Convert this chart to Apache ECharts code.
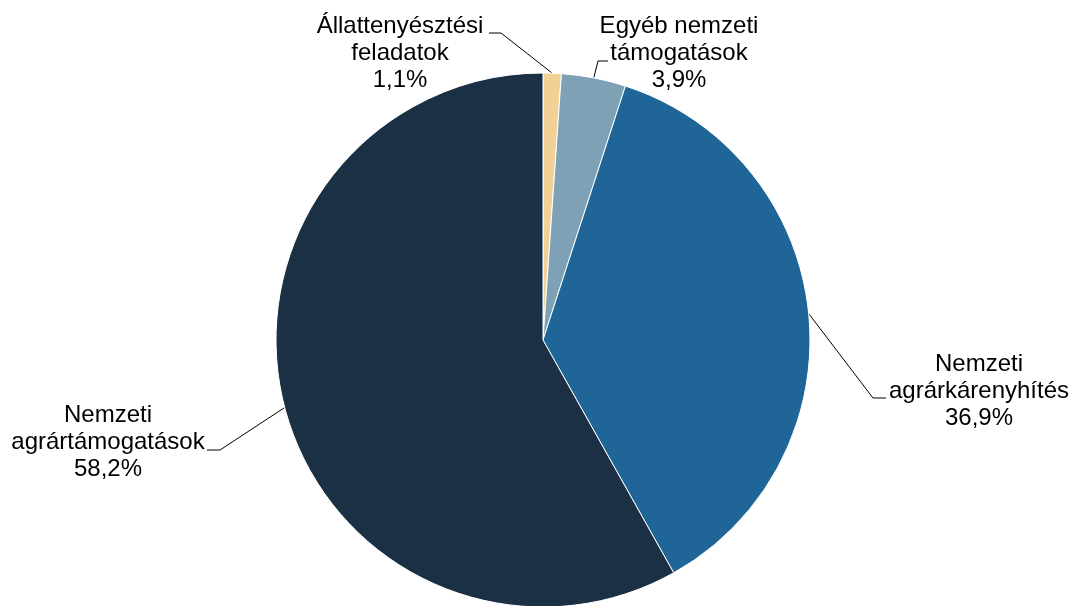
<!DOCTYPE html>
<html>
<head>
<meta charset="utf-8">
<script src="https://cdn.jsdelivr.net/npm/echarts@6/dist/echarts.min.js"></script>
<style>
html,body{margin:0;padding:0;background:#fff;}
#c{width:1072px;height:606px;}
</style>
</head>
<body>
<div id="c"></div>
<script>
var categories = ["Állattenyésztési\nfeladatok", "Egyéb nemzeti\ntámogatások", "Nemzeti\nagrárkárenyhítés", "Nemzeti\nagrártámogatások"];
var values = [1.1, 3.9, 36.9, 58.2];
var colors = ["#F2D197", "#7FA1B5", "#1F6597", "#1B3044"];
// label centre positions and elbow points (layout only)
var labelPos = [
  {x: 400, y: 53, elbow: [501, 33], end: [489, 33]},
  {x: 679, y: 53, elbow: [598, 61], end: [608, 61]},
  {x: 979, y: 391, elbow: [873, 398], end: [886, 398]},
  {x: 108, y: 442, elbow: [220, 450], end: [207, 450]}
];

var chart = echarts.init(document.getElementById('c'));
chart.setOption({
  animation: false,
  series: [{
    type: 'pie',
    center: [543, 340],
    radius: [0, 267],
    startAngle: 90,
    clockwise: true,
    data: categories.map(function (c, i) {
      return {name: c, value: values[i], itemStyle: {color: colors[i]}};
    }),
    itemStyle: {borderColor: '#fff', borderWidth: 1},
    label: {
      show: true,
      formatter: function (p) {
        return p.name + '\n' + String(p.value.toFixed(1)).replace('.', ',') + '%';
      },
      fontFamily: 'Liberation Sans, Arial, sans-serif',
      fontSize: 24,
      lineHeight: 27,
      color: '#000',
      align: 'center'
    },
    labelLine: {show: true, lineStyle: {color: '#000', width: 1}},
    labelLayout: function (params) {
      var lp = labelPos[params.dataIndex];
      var anchor = params.labelLinePoints ? params.labelLinePoints[0] : lp.elbow;
      return {
        x: lp.x,
        y: lp.y,
        align: 'center',
        verticalAlign: 'middle',
        labelLinePoints: [anchor, lp.elbow, lp.end]
      };
    }
  }]
});
</script>
</body>
</html>
